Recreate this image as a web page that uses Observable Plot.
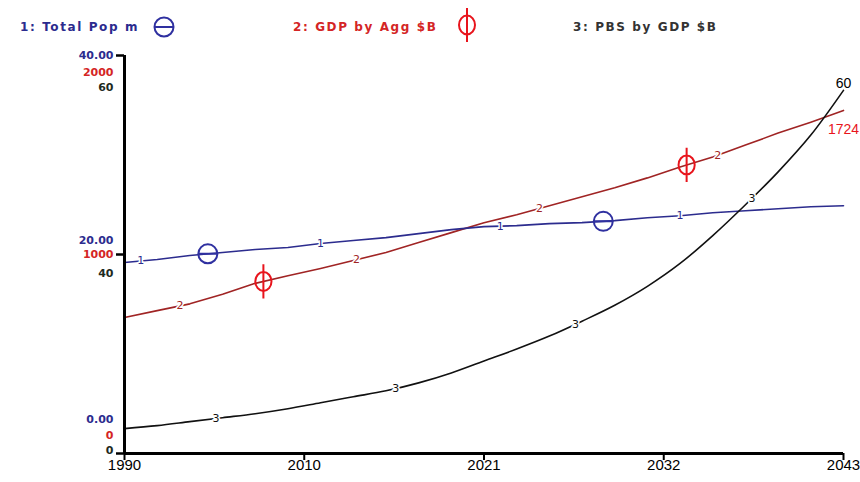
<!DOCTYPE html>
<html>
<head>
<meta charset="utf-8">
<script src="https://cdn.jsdelivr.net/npm/d3@7"></script>
<script src="https://cdn.jsdelivr.net/npm/@observablehq/plot@0.6"></script>
<style>
  html, body { margin: 0; padding: 0; background: #fff; }
  #wrap { position: relative; width: 860px; height: 482px; overflow: hidden; }
  #chart { position: absolute; left: 0; top: 0; }
  .leg { position: absolute; top: 18px; font-family: "DejaVu Sans", sans-serif; font-weight: bold; font-size: 12px; letter-spacing: 1.6px; white-space: nowrap; line-height: 18px; }
  .legsym { position: absolute; }
</style>
</head>
<body>
<div id="wrap">
  <div id="chart"></div>
  <div class="leg" id="leg1" style="left:20px;color:#2b2b8e"></div>
  <svg class="legsym" style="left:150px;top:14px" width="30" height="30"><circle cx="14" cy="13" r="9.5" fill="none" stroke="#2f30a0" stroke-width="2"/><line x1="4.5" x2="23.5" y1="13" y2="13" stroke="#2f30a0" stroke-width="2"/></svg>
  <div class="leg" id="leg2" style="left:293px;color:#d42525"></div>
  <svg class="legsym" style="left:452px;top:4px" width="30" height="42"><ellipse cx="15" cy="21" rx="8" ry="9.5" fill="none" stroke="#e8141c" stroke-width="2"/><line x1="15" x2="15" y1="4" y2="38" stroke="#e8141c" stroke-width="2"/></svg>
  <div class="leg" id="leg3" style="left:573px;color:#333"></div>
</div>
<script>
// ---- data ----
const years = [1999, 2001, 2003, 2005, 2007, 2009, 2011, 2013, 2015, 2017, 2019, 2021, 2023, 2025, 2027, 2029, 2031, 2033, 2035, 2037, 2039, 2041, 2043];
const totalPop = [19.2, 19.5, 19.9, 20.2, 20.5, 20.7, 21.1, 21.4, 21.7, 22.1, 22.5, 22.8, 22.9, 23.1, 23.2, 23.4, 23.7, 23.9, 24.2, 24.4, 24.6, 24.8, 24.9];
const gdpByAgg = [683, 718, 752, 800, 855, 893, 930, 970, 1010, 1060, 1110, 1160, 1200, 1245, 1290, 1335, 1385, 1440, 1490, 1550, 1610, 1665, 1724];
const pbsByGdp = [22.5, 22.8, 23.2, 23.6, 24.0, 24.5, 25.1, 25.7, 26.3, 27.1, 28.1, 29.3, 30.5, 31.8, 33.3, 34.9, 36.8, 39.1, 41.9, 45.0, 48.3, 52.0, 56.5];

const seriesNames = ["1: Total Pop m", "2: GDP by Agg $B", "3: PBS by GDP $B"];

const xTicks = [1999, 2010, 2021, 2032, 2043];
const xTickLabels = ["1990", "2010", "2021", "2032", "2043"];

const popTicks = [0, 20, 40];
const popTickLabels = ["0.00", "20.00", "40.00"];
const gdpTicks = [0, 1000, 2000];
const gdpTickLabels = ["0", "1000", "2000"];
const pbsTicks = [20, 40, 60];
const pbsTickLabels = ["0", "40", "60"];

const popMarkerYears = [2004.1, 2028.3];
const gdpMarkerYears = [2007.5, 2033.4];

const popLabelYears = [2000, 2011, 2022, 2033];
const gdpLabelYears = [2002.4, 2013.2, 2024.4, 2035.3];
const pbsLabelYears = [2004.6, 2015.6, 2026.6, 2037.4];

const gdpEndLabel = "1724";
const pbsEndLabel = "60";

// ---- styling ----
const cPop = "#2c2c8e", cPopMark = "#2f30a0";
const cGdp = "#a02424", cGdpMark = "#e8141c";
const cPbs = "#111111";

document.getElementById("leg1").textContent = seriesNames[0];
document.getElementById("leg2").textContent = seriesNames[1];
document.getElementById("leg3").textContent = seriesNames[2];

// map each series' own units onto the shared plotting scale (pop units, 0..40)
const toY = {
  pop: v => v,
  gdp: v => v / 50,
  pbs: v => v - 20
};

function interp(xs, vs, t) {
  let i = d3.bisectRight(xs, t) - 1;
  i = Math.max(0, Math.min(xs.length - 2, i));
  const f = (t - xs[i]) / (xs[i + 1] - xs[i]);
  return vs[i] + f * (vs[i + 1] - vs[i]);
}

const popRows = years.map((yr, i) => ({year: yr, y: toY.pop(totalPop[i])}));
const gdpRows = years.map((yr, i) => ({year: yr, y: toY.gdp(gdpByAgg[i])}));
const pbsRows = years.map((yr, i) => ({year: yr, y: toY.pbs(pbsByGdp[i])}));

const at = (arr, mapper, yrs) => yrs.map(yr => ({year: yr, y: mapper(interp(years, arr, yr))}));

const theta = {
  draw(c, size) {
    const r = Math.sqrt(size / Math.PI);
    c.moveTo(r, 0); c.arc(0, 0, r, 0, 2 * Math.PI);
    c.moveTo(-r, 0); c.lineTo(r, 0);
  }
};
const phi = {
  draw(c, size) {
    const r = Math.sqrt(size / Math.PI);
    const rx = r * 0.85, ry = r, k = 0.5523;
    c.moveTo(rx, 0);
    c.bezierCurveTo(rx, ry * k, rx * k, ry, 0, ry);
    c.bezierCurveTo(-rx * k, ry, -rx, ry * k, -rx, 0);
    c.bezierCurveTo(-rx, -ry * k, -rx * k, -ry, 0, -ry);
    c.bezierCurveTo(rx * k, -ry, rx, -ry * k, rx, 0);
    c.moveTo(0, -r * 1.8); c.lineTo(0, r * 1.8);
  }
};

const tickFont = "DejaVu Sans, sans-serif";
const yLabelMarks = [];
const tickSets = [
  {ticks: popTicks, labels: popTickLabels, map: toY.pop, color: cPop, offs: [-34, -14, 0]},
  {ticks: gdpTicks, labels: gdpTickLabels, map: toY.gdp, color: "#d42525", offs: [-18, 0, 17]},
  {ticks: pbsTicks, labels: pbsTickLabels, map: toY.pbs, color: "#1e2a1e", offs: [-3, 19, 32]}
];
for (const s of tickSets) {
  s.ticks.forEach((t, i) => {
    yLabelMarks.push(Plot.text([s.labels[i]], {
      y: () => s.map(t), text: d => d, frameAnchor: "left", dx: -11, dy: s.offs[i],
      textAnchor: "end", fill: s.color, fontSize: 11, fontFamily: tickFont, fontWeight: "bold",
      style: "letter-spacing:2px"
    }));
  });
}

const lineLabel = (rows, txt, color) => Plot.text(rows, {
  x: "year", y: "y", text: () => txt, fill: color, fontSize: 11, fontFamily: tickFont,
  stroke: "white", strokeWidth: 3, paintOrder: "stroke"
});

const gdpLast = gdpRows[gdpRows.length - 1];
const pbsLast = pbsRows[pbsRows.length - 1];

const chart = Plot.plot({
  width: 860,
  height: 482,
  marginLeft: 124,
  marginRight: 17,
  marginTop: 55,
  marginBottom: 29,
  x: {domain: [1999, 2043], axis: null},
  y: {domain: [0, 40], axis: null},
  style: {background: "white", overflow: "visible"},
  marks: [
    Plot.axisX({ticks: xTicks, tickSize: 7, tickFormat: () => "", label: null, strokeWidth: 2, stroke: "black"}),
    Plot.axisY({ticks: popTicks, tickSize: 8, tickFormat: () => "", label: null, strokeWidth: 2.5, stroke: "black"}),
    Plot.line(gdpRows, {x: "year", y: "y", stroke: cGdp, strokeWidth: 1.6}),
    Plot.line(popRows, {x: "year", y: "y", stroke: cPop, strokeWidth: 1.6}),
    Plot.line(pbsRows, {x: "year", y: "y", stroke: cPbs, strokeWidth: 1.6, curve: "monotone-x"}),
    lineLabel(at(totalPop, toY.pop, popLabelYears), "1", cPop),
    lineLabel(at(gdpByAgg, toY.gdp, gdpLabelYears), "2", cGdp),
    lineLabel(at(pbsByGdp, toY.pbs, pbsLabelYears), "3", cPbs),
    Plot.dot(at(totalPop, toY.pop, popMarkerYears), {x: "year", y: "y", r: 9.5, symbol: theta, stroke: cPopMark, fill: "none", strokeWidth: 2}),
    Plot.dot(at(gdpByAgg, toY.gdp, gdpMarkerYears), {x: "year", y: "y", r: 9.5, symbol: phi, stroke: cGdpMark, fill: "none", strokeWidth: 2}),
    Plot.ruleY([0], {stroke: "black", strokeWidth: 3}),
    Plot.ruleX([1999], {stroke: "black", strokeWidth: 3}),
    Plot.text(xTicks, {x: d => d, text: (d, i) => xTickLabels[i], frameAnchor: "bottom", dy: 16,
      fontSize: 15, fontFamily: "Liberation Sans Narrow, Liberation Sans, sans-serif", fill: "black",
      style: "letter-spacing:-1.5px"}),
    ...yLabelMarks,
    Plot.text([gdpLast], {x: "year", y: "y", text: () => gdpEndLabel, dy: 19, fill: cGdpMark, fontSize: 14,
      fontFamily: "Liberation Sans, sans-serif"}),
    Plot.text([pbsLast], {x: "year", y: "y", text: () => pbsEndLabel, dy: -7, fill: "black", fontSize: 14,
      fontFamily: "Liberation Sans, sans-serif"})
  ]
});
document.getElementById("chart").appendChild(chart);
</script>
</body>
</html>
